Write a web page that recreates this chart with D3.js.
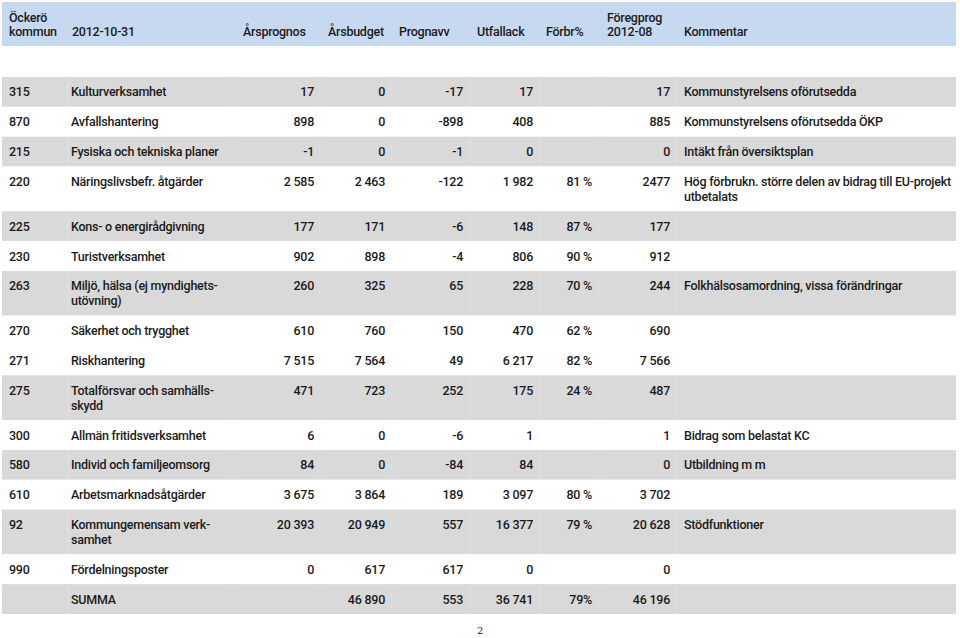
<!DOCTYPE html>
<html lang="sv">
<head>
<meta charset="UTF-8"/>
<title>Öckerö kommun 2012-10-31</title>
<script src="https://d3js.org/d3.v7.min.js"></script>
<style>
    body { margin: 0; background: #fff; }
    svg text { font-family: Roboto, "Liberation Sans", sans-serif; font-size: 12.5px; font-weight: 500; letter-spacing: -0.25px; fill: #1b1b1b; }
</style>
</head>
<body>
<script>
var w = 960;
var h = 638;

// table data, one array per column
var codes = ["315", "870", "215", "220", "225", "230", "263", "270", "271", "275", "300", "580", "610", "92", "990", ""];
var names = [["Kulturverksamhet"], ["Avfallshantering"], ["Fysiska och tekniska planer"], ["Näringslivsbefr. åtgärder"],
    ["Kons- o energirådgivning"], ["Turistverksamhet"], ["Miljö, hälsa (ej myndighets-", "utövning)"],
    ["Säkerhet och trygghet"], ["Riskhantering"], ["Totalförsvar och samhälls-", "skydd"],
    ["Allmän fritidsverksamhet"], ["Individ och familjeomsorg"], ["Arbetsmarknadsåtgärder"],
    ["Kommungemensam verk-", "samhet"], ["Fördelningsposter"], ["SUMMA"]];
var arsprognos = ["17", "898", "-1", "2 585", "177", "902", "260", "610", "7 515", "471", "6", "84", "3 675", "20 393", "0", ""];
var arsbudget = ["0", "0", "0", "2 463", "171", "898", "325", "760", "7 564", "723", "0", "0", "3 864", "20 949", "617", "46 890"];
var prognavv = ["-17", "-898", "-1", "-122", "-6", "-4", "65", "150", "49", "252", "-6", "-84", "189", "557", "617", "553"];
var utfallack = ["17", "408", "0", "1 982", "148", "806", "228", "470", "6 217", "175", "1", "84", "3 097", "16 377", "0", "36 741"];
var forbr = ["", "", "", "81 %", "87 %", "90 %", "70 %", "62 %", "82 %", "24 %", "", "", "80 %", "79 %", "", "79%"];
var foregprog = ["17", "885", "0", "2477", "177", "912", "244", "690", "7 566", "487", "1", "0", "3 702", "20 628", "0", "46 196"];
var kommentar = [["Kommunstyrelsens oförutsedda"], ["Kommunstyrelsens oförutsedda ÖKP"], ["Intäkt från översiktsplan"],
    ["Hög förbrukn. större delen av bidrag till EU-projekt", "utbetalats"], [], [],
    ["Folkhälsosamordning, vissa förändringar"], [], [], [], ["Bidrag som belastat KC"], ["Utbildning m m"], [],
    ["Stödfunktioner"], [], []];
var shadedRows = ["315", "215", "225", "263", "275", "580", "92", ""];

var headers = [["Öckerö", "kommun"], ["2012-10-31"], ["Årsprognos"], ["Årsbudget"], ["Prognavv"],
    ["Utfallack"], ["Förbr%"], ["Föregprog", "2012-08"], ["Kommentar"]];

var columns = ["code", "name", "prog", "budget", "avv", "utfall", "forbr", "foreg", "komm"];

// layout
var headerX = d3.scaleOrdinal().domain(columns).range([9, 72, 243, 328, 399, 477, 546, 607, 684]);
var cellX = d3.scaleOrdinal().domain(columns).range([9, 71, 314, 385, 463, 533, 592, 670, 684]);
var cellAnchor = d3.scaleOrdinal().domain(columns).range(["start", "start", "end", "end", "end", "end", "end", "end", "start"]);
var borders = [68, 232, 320, 392, 470, 540, 600, 676];

var rows = codes.map(function (c, i) {
    var lines = Math.max(names[i].length, kommentar[i].length);
    return {
        i: i, code: c, lines: lines,
        cells: {
            code: [c], name: names[i], prog: [arsprognos[i]], budget: [arsbudget[i]], avv: [prognavv[i]],
            utfall: [utfallack[i]], forbr: [forbr[i]], foreg: [foregprog[i]], komm: kommentar[i]
        },
        shaded: shadedRows.indexOf(c) >= 0
    };
});

// each row takes lines+1 units of height
var acc = 0;
rows.forEach(function (r) { r.u0 = acc; acc += r.lines + 1; r.u1 = acc; });
var yScale = d3.scaleLinear().domain([0, acc]).range([77, 614]);

var svg = d3.select("body").append("svg").attr("width", w).attr("height", h);

// header band
svg.append("rect").attr("x", 2).attr("y", 2).attr("width", 954).attr("height", 44).attr("fill", "#c6d9f1");
var hg = svg.selectAll("g.head").data(columns).enter().append("g").attr("class", "head");
hg.each(function (col, ci) {
    var lines = headers[ci];
    d3.select(this).selectAll("text").data(lines).enter().append("text")
        .attr("x", headerX(col))
        .attr("y", function (d, li) { return 36 - (lines.length - 1 - li) * 14; })
        .text(function (d) { return d; });
});

// rows
var rg = svg.selectAll("g.row").data(rows).enter().append("g").attr("class", "row");
rg.append("rect")
    .attr("x", 2)
    .attr("y", function (d) { return yScale(d.u0); })
    .attr("width", 954)
    .attr("height", function (d) { return yScale(d.u1) - yScale(d.u0); })
    .attr("fill", function (d) { return d.shaded ? "#d9d9d9" : "#ffffff"; });

rg.filter(function (d) { return d.shaded; }).each(function (r) {
    d3.select(this).selectAll("line").data(borders).enter().append("line")
        .attr("x1", function (b) { return b; }).attr("x2", function (b) { return b; })
        .attr("y1", yScale(r.u0)).attr("y2", yScale(r.u1))
        .attr("stroke", "#e1e1e1").attr("stroke-width", 1);
});

rg.each(function (r) {
    var g = d3.select(this);
    columns.forEach(function (col) {
        g.selectAll("text." + col).data(r.cells[col]).enter().append("text")
            .attr("class", col)
            .attr("x", cellX(col))
            .attr("y", function (d, li) { return yScale(r.u0 + 1 + li) + 4.5; })
            .attr("text-anchor", cellAnchor(col))
            .text(function (d) { return d; });
    });
});

// page number
svg.append("text").attr("x", 480).attr("y", 634).attr("text-anchor", "middle")
    .style("font-family", "'DejaVu Serif', serif").style("font-weight", "normal").style("font-size", "10px")
    .text("2");
</script>
</body>
</html>
